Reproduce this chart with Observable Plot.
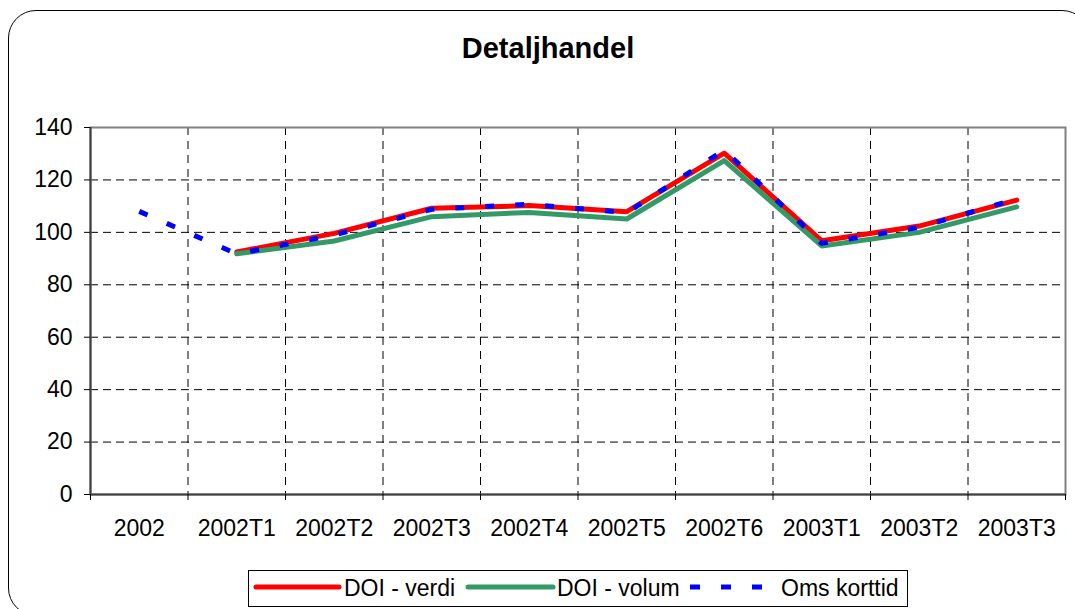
<!DOCTYPE html>
<html><head><meta charset="utf-8">
<script src="https://cdn.jsdelivr.net/npm/d3@7"></script>
<script src="https://cdn.jsdelivr.net/npm/@observablehq/plot@0.6"></script>
<style>
html,body{margin:0;padding:0;background:#fff;overflow:hidden;}
#wrap{position:relative;width:1075px;height:609px;overflow:hidden;font-family:Arial,"Liberation Sans",sans-serif;background:#fff;}
#border{position:absolute;left:8px;top:10px;width:1082px;height:606px;border:1.5px solid #000;border-radius:28px;box-sizing:border-box;}
#title{position:absolute;left:0;top:34px;width:1096px;text-align:center;font-weight:bold;font-size:29px;line-height:28px;color:#000;}
#chart{position:absolute;left:0;top:0;}
#legend{position:absolute;left:248px;top:570px;width:660px;height:37px;border:1px solid #000;box-sizing:border-box;background:#fff;}
</style>
</head><body>
<div id="wrap">
  <div id="border"></div>
  <div id="title">Detaljhandel</div>
  <div id="chart"></div>
  <div id="legend"></div>
</div>
<script>
// ---- data ----
const categories = ["2002","2002T1","2002T2","2002T3","2002T4","2002T5","2002T6","2003T1","2003T2","2003T3"];
const doiVerdi = [null, 92.5, 99.6, 109.2, 110.2, 107.9, 130.2, 96.8, 102.4, 112.3];
const doiVolum = [null, 91.8, 96.7, 106.0, 107.6, 105.1, 127.4, 94.8, 100.0, 109.7];
const omsKorttid = [108.0, 91.8, 99.0, 108.8, 110.7, 107.5, 131.4, 95.8, 101.9, 112.8];
const seriesNames = ["DOI - verdi", "DOI - volum", "Oms korttid"];
const seriesColors = ["#ff0000", "#339966", "#0000ff"];
const yTicks = [0, 20, 40, 60, 80, 100, 120, 140];

const idx = categories.map((_, i) => i);
const boundaries = d3.range(categories.length + 1).map(i => i - 0.5);
const innerBoundaries = boundaries.slice(1, -1);
const rows = (vals) => idx.map(i => ({i, v: vals[i]})).filter(d => d.v != null);

const plot = Plot.plot({
  width: 1075,
  height: 560,
  marginTop: 127,
  marginBottom: 66,
  marginLeft: 90,
  marginRight: 10,
  style: {fontSize: "23px", fontFamily: "Arial, 'Liberation Sans', sans-serif", background: "transparent", color: "#000"},
  x: {type: "linear", domain: [-0.5, categories.length - 0.5]},
  y: {domain: [0, 140]},
  marks: [
    Plot.gridY({ticks: yTicks.slice(1, -1), stroke: "#000", strokeOpacity: 1, strokeDasharray: "8,5"}),
    Plot.gridX({ticks: innerBoundaries, stroke: "#000", strokeOpacity: 1, strokeDasharray: "8,6"}),
    Plot.frame({stroke: "#808080", strokeWidth: 2}),
    Plot.ruleX([-0.5], {stroke: "#404040", strokeWidth: 2}),
    Plot.ruleY([0], {stroke: "#404040", strokeWidth: 2}),
    Plot.axisY({ticks: yTicks, tickSize: 6, tickPadding: 12, label: null, tickFormat: d => String(d)}),
    Plot.axisX({ticks: idx, tickSize: 0, tickPadding: 25, label: null, tickFormat: i => categories[i]}),
    Plot.axisX({ticks: boundaries, tickSize: 6, label: null, tickFormat: () => ""}),
    Plot.line(rows(doiVerdi), {x: "i", y: "v", stroke: seriesColors[0], strokeWidth: 5, strokeLinecap: "round"}),
    Plot.line(rows(doiVolum), {x: "i", y: "v", stroke: seriesColors[1], strokeWidth: 5, strokeLinecap: "round"}),
    Plot.line(rows(omsKorttid), {x: "i", y: "v", stroke: seriesColors[2], strokeWidth: 5, strokeDasharray: "9,21", strokeLinecap: "butt"})
  ]
});
document.getElementById("chart").appendChild(plot);

// ---- legend ----
const lg = d3.select("#legend").append("svg").attr("width", 658).attr("height", 35)
  .style("font-family", "Arial, 'Liberation Sans', sans-serif").style("font-size", "23px");
const items = [
  {x0: 7, x1: 90, tx: 95},
  {x0: 219, x1: 304, tx: 308},
  {x0: 441, x1: 514, tx: 532}
];
items.forEach((it, k) => {
  const ln = lg.append("line").attr("x1", it.x0).attr("x2", it.x1).attr("y1", 16).attr("y2", 16)
    .attr("stroke", seriesColors[k]).attr("stroke-width", 5);
  if (k === 2) ln.attr("stroke-dasharray", "10,21").attr("stroke-linecap", "butt");
  else ln.attr("stroke-linecap", "round");
  lg.append("text").attr("x", it.tx).attr("y", 25).text(seriesNames[k]);
});
</script>
</body></html>
